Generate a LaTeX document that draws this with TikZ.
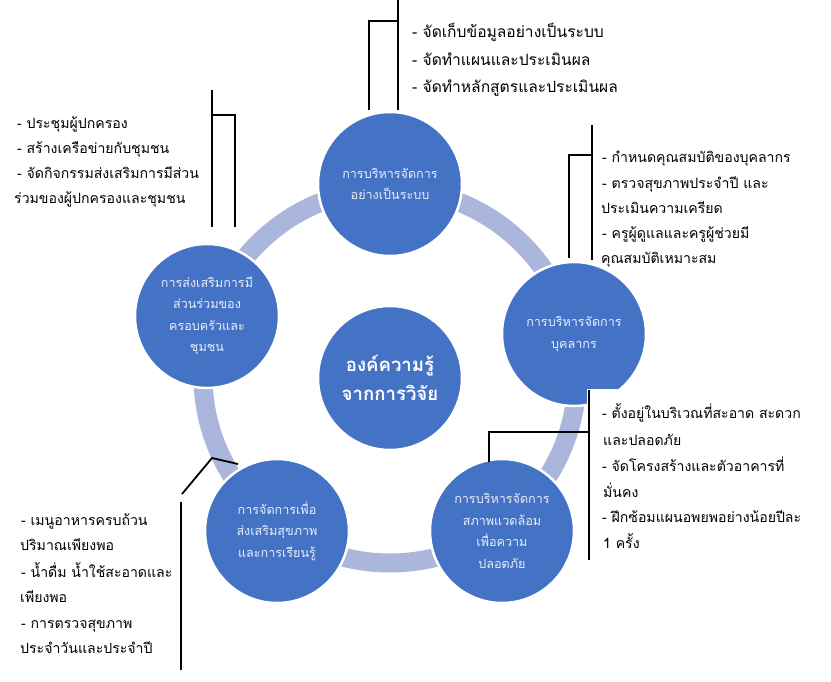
\documentclass[tikz,border=0pt]{standalone}
\usepackage{fontspec}
\newfontfamily\thaifont[Script=Thai]{Loma}
\usepackage{xcolor}
\definecolor{Col1}{RGB}{68,114,196}
\definecolor{Col2}{RGB}{170,182,220}
\definecolor{Col3}{RGB}{232,238,250}
\usepackage{tikz}
\tikzstyle{Topic}=[circle,fill=Col1,draw=white,line width=2.5pt,
minimum size=144pt,inner sep=0pt,align=center,text=Col3,
font=\thaifont\fontsize{12.6}{21.5}\selectfont]
\tikzstyle{Core}=[Topic,text=white,font=\thaifont\bfseries\fontsize{18.6}{29}\selectfont]
\tikzstyle{Ring}=[draw=Col2,line width=19pt]
\tikzstyle{Edge}=[draw=black,line width=1.8pt]
\tikzstyle{NodeST}=[anchor=base west,inner sep=0pt,font=\thaifont\fontsize{14.1}{26}\selectfont]
\tikzstyle{NodeTop}=[NodeST,font=\thaifont\fontsize{15.6}{28}\selectfont]

\begin{document}
\begin{tikzpicture}[x=1pt,y=-1pt]
        \fill[white](0,0)rectangle(831,681);
        \useasboundingbox(0,0)rectangle(831,681);
        \coordinate(c)at(390,376);
        \draw[Ring](c)circle[radius=187pt];
        % list under the staff circle
        \node[NodeST](s1)at(602,162){- กำหนดคุณสมบัติของบุคลากร};
        \node[NodeST](s2)at(602,188){- ตรวจสุขภาพประจำปี และ};
        \node[NodeST](s3)at(601,213){ประเมินความเครียด};
        \node[NodeST](s4)at(602,238){- ครูผู้ดูแลและครูผู้ช่วยมี};
        \node[NodeST](s5)at(601,263){คุณสมบัติเหมาะสม};
        % circles
        \node[Topic](sys)at(390,184){การบริหารจัดการ\\อย่างเป็นระบบ};
        \node[Topic](fam)at(207,316){การส่งเสริมการมี\\ส่วนร่วมของ\\ครอบครัวและ\\ชุมชน};
        \node[Topic](staff)at(574,334){การบริหารจัดการ\\บุคลากร};
        \node[Topic](env)at(502,531){การบริหารจัดการ\\สภาพแวดล้อม\\เพื่อความ\\ปลอดภัย};
        \node[Topic](hlt)at(277,531){การจัดการเพื่อ\\ส่งเสริมสุขภาพ\\และการเรียนรู้};
        \node[Core](core)at(390,378){องค์ความรู้\\จากการวิจัย};
        \fill[white](587,389)rectangle(831,681);
        % lists
        \node[NodeTop](a1)at(412,37){- จัดเก็บข้อมูลอย่างเป็นระบบ};
        \node[NodeTop](a2)at(412,65){- จัดทำแผนและประเมินผล};
        \node[NodeTop](a3)at(412,92){- จัดทำหลักสูตรและประเมินผล};
        \node[NodeST](f1)at(17,128){- ประชุมผู้ปกครอง};
        \node[NodeST](f2)at(17,153){- สร้างเครือข่ายกับชุมชน};
        \node[NodeST](f3)at(17,178){- จัดกิจกรรมส่งเสริมการมีส่วน};
        \node[NodeST](f4)at(14,203){ร่วมของผู้ปกครองและชุมชน};
        \node[NodeST](e1)at(602,418){- ตั้งอยู่ในบริเวณที่สะอาด สะดวก};
        \node[NodeST](e2)at(603,445){และปลอดภัย};
        \node[NodeST](e3)at(602,471){- จัดโครงสร้างและตัวอาคารที่};
        \node[NodeST](e4)at(603,497){มั่นคง};
        \node[NodeST](e5)at(602,522){- ฝึกซ้อมแผนอพยพอย่างน้อยปีละ};
        \node[NodeST](e6)at(603,548){1 ครั้ง};
        \node[NodeST](h1)at(21,525){- เมนูอาหารครบถ้วน};
        \node[NodeST](h2)at(20,550){ปริมาณเพียงพอ};
        \node[NodeST](h3)at(21,577){- น้ำดื่ม น้ำใช้สะอาดและ};
        \node[NodeST](h4)at(20,602){เพียงพอ};
        \node[NodeST](h5)at(21,628){- การตรวจสุขภาพ};
        \node[NodeST](h6)at(20,653){ประจำวันและประจำปี};
        % callouts
        \coordinate(a0)at(398,0);
        \coordinate(a9)at(398,110);
        \coordinate(ak)at(398,21);
        \coordinate(aj)at(369,21);
        \coordinate(ae)at(369,110);
        \draw[Edge](a0)--(a9);
        \draw[Edge](ak)--(aj)--(ae);
        \coordinate(f0)at(212,90);
        \coordinate(f9)at(212,227);
        \coordinate(fk)at(212,115);
        \coordinate(fj)at(235,115);
        \coordinate(fe)at(235,227);
        \draw[Edge](f0)--(f9);
        \draw[Edge](fk)--(fj)--(fe);
        \coordinate(s0)at(592,125);
        \coordinate(s9)at(592,260);
        \coordinate(sk)at(592,155);
        \coordinate(sj)at(569,155);
        \coordinate(se)at(569,258);
        \draw[Edge](s0)--(s9);
        \draw[Edge](sk)--(sj)--(se);
        \coordinate(e0)at(589,390);
        \coordinate(e9)at(589,560);
        \coordinate(ek)at(589,432);
        \coordinate(ej)at(489,432);
        \coordinate(ee)at(489,462);
        \draw[Edge](e0)--(e9);
        \draw[Edge](ek)--(ej)--(ee);
        \coordinate(h0)at(181,502);
        \coordinate(h9)at(181,670);
        \coordinate(hk)at(182,494);
        \coordinate(hj)at(212,458);
        \coordinate(he)at(238,464);
        \draw[Edge](h0)--(h9);
        \draw[Edge](hk)--(hj)--(he);
    \end{tikzpicture}
\end{document}
